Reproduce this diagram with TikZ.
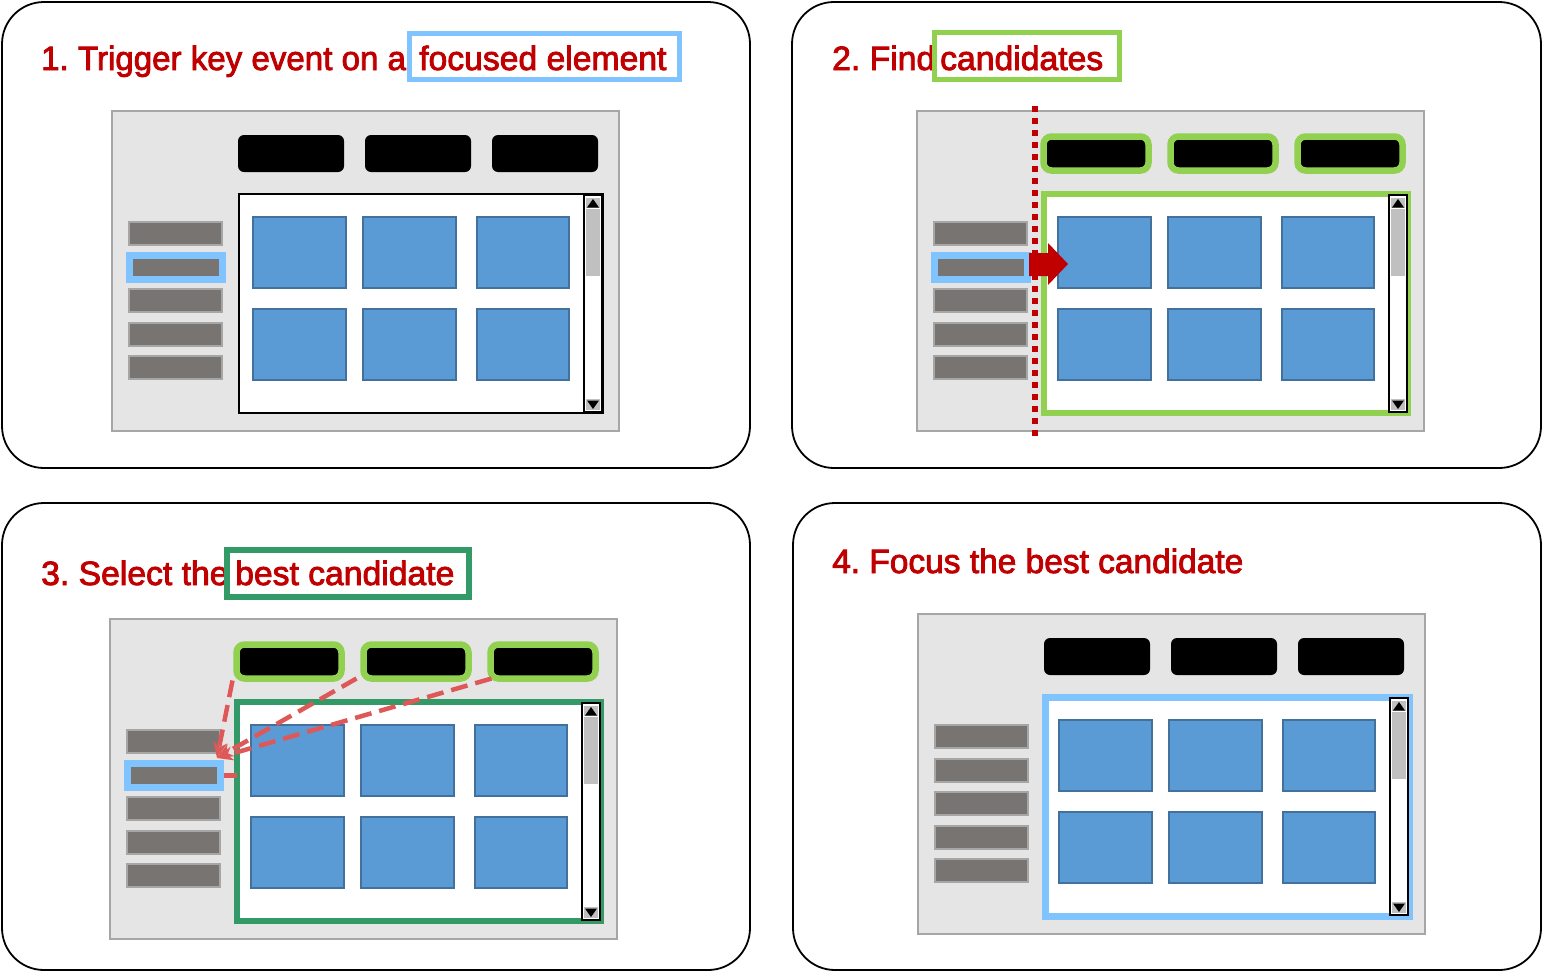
\documentclass[tikz,border=0pt]{standalone}
\usepackage{fontspec}
\setmainfont{Liberation Sans}
\newfontfamily\headfont{Liberation Sans}[FakeBold=2.5]
\usetikzlibrary{arrows.meta}
\frenchspacing

\definecolor{titlered}{HTML}{C00000}
\definecolor{screenbg}{HTML}{E5E5E5}
\definecolor{screenline}{HTML}{A6A6A6}
\definecolor{itemgray}{HTML}{787472}
\definecolor{tileblue}{HTML}{5B9BD5}
\definecolor{tileedge}{HTML}{41719C}
\definecolor{focusblue}{HTML}{80C4FF}
\definecolor{candgreen}{HTML}{92D050}
\definecolor{bestgreen}{HTML}{339966}
\definecolor{scrollgray}{HTML}{C0C0C0}
\definecolor{pathred}{HTML}{DE5858}

% rectangle node given by its corners: style, name, x1, y1, x2, y2
\newcommand\rectnode[6]{%
  \pgfmathsetmacro\rnw{(#5)-(#3)}%
  \pgfmathsetmacro\rnh{(#6)-(#4)}%
  \node[inner sep=0pt, outer sep=0pt, minimum width=\rnw pt,
        minimum height=\rnh pt, #1] (#2) at ({((#3)+(#5))/2},{((#4)+(#6))/2}) {};}

% one mock-up screen: name prefix, top-left corner, tab style, list box style, focused item (1/0)
\newcommand\drawscreen[5]{%
  \begin{scope}[shift={#2}]
    \rectnode{screen}{#1screen}{0}{0}{507}{320}
    \rectnode{#3}{#1tab1}{126}{24}{232}{61}
    \rectnode{#3}{#1tab2}{253}{24}{359}{61}
    \rectnode{#3}{#1tab3}{380}{24}{486}{61}
    \rectnode{#4}{#1content}{127}{83}{491}{302}
    % scroll bar
    \rectnode{scrollframe}{#1scroll}{472}{84}{490}{301}
    \rectnode{scrollpart}{#1up}{474}{87}{488}{97}
    \rectnode{scrollpart}{#1thumb}{474}{98}{488}{165}
    \rectnode{scrollpart}{#1down}{474}{288}{488}{299}
    \fill (481,88) -- (475,96.5) -- (487,96.5) -- cycle;
    \fill (481,298) -- (475,289.5) -- (487,289.5) -- cycle;
    % tiles
    \rectnode{tile}{#1tile1}{141}{106}{234}{177}
    \rectnode{tile}{#1tile2}{251}{106}{344}{177}
    \rectnode{tile}{#1tile3}{365}{106}{457}{177}
    \rectnode{tile}{#1tile4}{141}{198}{234}{269}
    \rectnode{tile}{#1tile5}{251}{198}{344}{269}
    \rectnode{tile}{#1tile6}{365}{198}{457}{269}
    % side list
    \rectnode{item}{#1item1}{17}{111}{110}{134}
    \ifnum#5=1
      \rectnode{focusring}{#1item2}{14}{141}{114}{172}
      \rectnode{itemfill}{#1item2in}{21}{148}{107}{165}
    \else
      \rectnode{item}{#1item2}{17}{145}{110}{168}
    \fi
    \rectnode{item}{#1item3}{17}{178}{110}{201}
    \rectnode{item}{#1item4}{17}{212}{110}{235}
    \rectnode{item}{#1item5}{17}{245}{110}{268}
  \end{scope}}

\begin{document}
\begin{tikzpicture}[x=1pt, y=-1pt,
  panel/.style={draw=black, line width=1.8pt, rounded corners=42pt},
  screen/.style={draw=screenline, fill=screenbg, line width=2pt},
  tabplain/.style={fill=black, rounded corners=6pt},
  tabcand/.style={fill=black, draw=candgreen, line width=6.5pt, rounded corners=8pt,
                  minimum width=105pt, minimum height=34pt},
  boxplain/.style={fill=white, draw=black, line width=2pt},
  boxcand/.style={fill=white, draw=candgreen, line width=6pt},
  boxbest/.style={fill=white, draw=bestgreen, line width=6pt},
  boxfocus/.style={fill=white, draw=focusblue, line width=7pt},
  scrollframe/.style={fill=white, draw=black, line width=2pt},
  scrollpart/.style={fill=scrollgray},
  tile/.style={fill=tileblue, draw=tileedge, line width=1.6pt},
  item/.style={fill=itemgray, draw=screenline, line width=2pt},
  itemfill/.style={fill=itemgray},
  focusring/.style={fill=focusblue},
  title/.style={text=titlered, inner sep=0pt, anchor=base west,
                font=\headfont\fontsize{33.7}{38}\selectfont},
  mark/.style={draw=#1, line width=5pt},
  path/.style={draw=pathred, line width=4.5pt, dash pattern=on 17pt off 8pt},
]
\useasboundingbox (0,0) rectangle (1544,972);

% four panels
\rectnode{panel}{panel1}{2}{2}{750}{468}
\rectnode{panel}{panel2}{792}{2}{1541}{468}
\rectnode{panel}{panel3}{2}{503}{750}{970}
\rectnode{panel}{panel4}{793}{503}{1541}{970}

% titles
\node[title] (t1a) at (41,70) {\scalebox{0.982}[1]{1. Trigger key event on a}};
\node[title] (t1b) at (419,70) {focused element};
\draw[mark=focusblue] (409.5,33.5) rectangle (679.5,79.5);

\node[title] (t2a) at (832,70) {2. Find};
\node[title] (t2b) at (940,70) {candidates};
\draw[mark=candgreen] (934.5,32.5) rectangle (1119.5,79.5);

\node[title] (t3a) at (41,585) {3. Select the};
\node[title] (t3b) at (235,585) {best candidate};
\draw[mark=bestgreen, line width=6pt] (227,550) rectangle (469,597);

\node[title] (t4) at (832,573) {\scalebox{0.993}[1]{4. Focus the best candidate}};

% screens
\drawscreen{p1}{(112,111)}{tabplain}{boxplain}{1}
\drawscreen{p2}{(917,111)}{tabcand}{boxcand}{1}
\drawscreen{p3}{(110,619)}{tabcand}{boxbest}{1}
\drawscreen{p4}{(918,614)}{tabplain}{boxfocus}{0}

% step 2: search direction and boundary
\draw[titlered, line width=6pt, dash pattern=on 6pt off 6pt] (1035,106) -- (1035,437);
\fill[titlered] (1029,253) -- (1048,253) -- (1048,243) -- (1068,264)
  -- (1048,285) -- (1048,276) -- (1029,276) -- cycle;

% step 3: distances from the candidates to the focused item
\coordinate (hit) at ([xshift=-7pt,yshift=2pt]p3item2.north east);
\draw[path, -{Stealth[length=16pt,width=14pt]}] ([shift={(-4pt,-2pt)}]p3tab1.south west) -- (hit);
\draw[path, -{Stealth[length=16pt,width=14pt]}] ([shift={(-7pt,0pt)}]p3tab2.south west) -- (hit);
\draw[path, -{Stealth[length=16pt,width=14pt]}] ([shift={(1pt,0pt)}]p3tab3.south west) -- (hit);
\draw[path] (p3item2.east) -- (p3item2.east -| p3content.west);
\end{tikzpicture}
\end{document}
